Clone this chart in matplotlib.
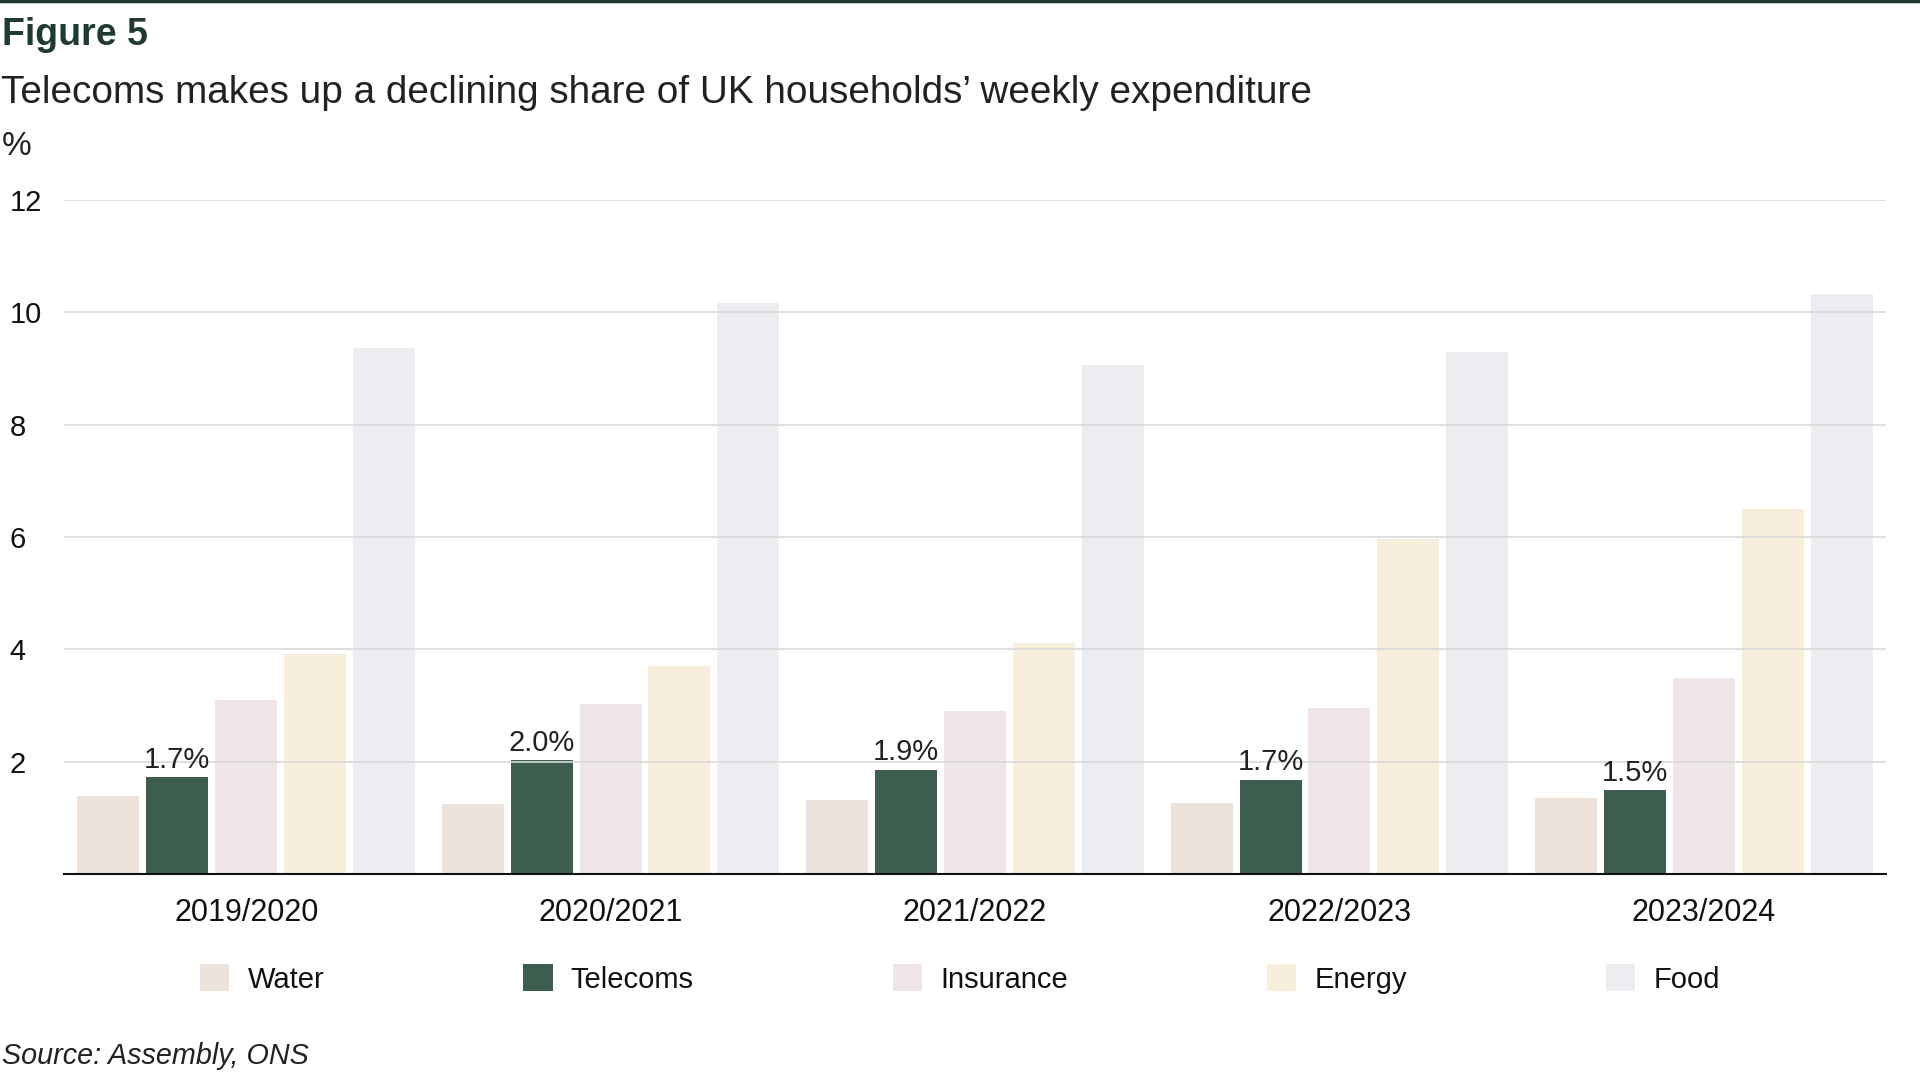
import numpy as np
import matplotlib.pyplot as plt
from matplotlib.lines import Line2D

plt.rcParams['font.family'] = ['Liberation Sans', 'DejaVu Sans']

# Share of weekly household expenditure, %
years = ['2019/2020', '2020/2021', '2021/2022', '2022/2023', '2023/2024']
water = [1.39, 1.24, 1.31, 1.26, 1.35]
telecoms = [1.72, 2.03, 1.86, 1.68, 1.49]
insurance = [3.09, 3.03, 2.90, 2.96, 3.49]
energy = [3.92, 3.70, 4.12, 5.97, 6.49]
food = [9.37, 10.17, 9.06, 9.30, 10.33]

series = ['Water', 'Telecoms', 'Insurance', 'Energy', 'Food']
colours = ['#ede3da', '#3d5e4f', '#f0e6e7', '#f7efdc', '#ecedf1']
yticks = [2, 4, 6, 8, 10, 12]

fig = plt.figure(figsize=(19.2, 10.8), dpi=100)
ax = fig.add_axes([64 / 1920, 1 - 874 / 1080, (1886 - 64) / 1920, (874 - 200) / 1080])

x = np.arange(len(years))
step = 0.189
width = 0.170
handles = []
for i, (name, vals) in enumerate(zip(series, [water, telecoms, insurance, energy, food])):
    b = ax.bar(x + (i - 2) * step, vals, width, color=colours[i], label=name, zorder=1)
    handles.append(b)
    if name == 'Telecoms':
        for xi, v in zip(x, vals):
            ax.annotate(f'{v:.1f}%', (xi + (i - 2) * step, v), xytext=(0, 2.5),
                        textcoords='offset points', ha='center', va='bottom',
                        fontsize=21, color='#222222', zorder=3)

ax.set_xlim(-0.5, len(years) - 0.5)
ax.set_ylim(0, 12)
ax.set_xticks(x)
ax.set_xticklabels(years, fontsize=22, color='#111111')
ax.set_yticks(yticks)
ax.set_yticklabels([str(t) for t in yticks], fontsize=21, color='#111111', ha='left')
ax.tick_params(axis='y', length=0, pad=39)
ax.tick_params(axis='x', length=0, pad=17)
ax.grid(axis='y', color='#d9d9d9', linewidth=1.2, zorder=2)
ax.set_axisbelow(False)
for s in ['top', 'right', 'left']:
    ax.spines[s].set_visible(False)
ax.spines['bottom'].set_color('#111111')
ax.spines['bottom'].set_linewidth(1.5)
ax.spines['bottom'].set_zorder(4)

fig.legend(handles=handles, labels=series, loc='center', bbox_to_anchor=(0.5, 1 - 979 / 1080),
           ncol=5, frameon=False, fontsize=21, handlelength=1.0, handleheight=1.0,
           handletextpad=0.62, columnspacing=6.83, labelcolor='#111111')

# top rule and texts
fig.add_artist(Line2D([0, 1], [0.999, 0.999], color='#1f3a30', linewidth=2.5))
fig.text(0.0008, 1 - 45 / 1080, 'Figure 5', fontsize=27, fontweight='bold', color='#1f3a30', va='baseline')
fig.text(0.0005, 1 - 103 / 1080, 'Telecoms makes up a declining share of UK households\u2019 weekly expenditure',
         fontsize=27.9, color='#222222', va='baseline')
fig.text(0.0008, 1 - 155 / 1080, '%', fontsize=24, color='#222222', va='baseline')
fig.text(0.0008, 1 - 1064 / 1080, 'Source: Assembly, ONS', fontsize=20.7, style='italic',
         color='#222222', va='baseline')

fig.savefig('out.png', dpi=100)
